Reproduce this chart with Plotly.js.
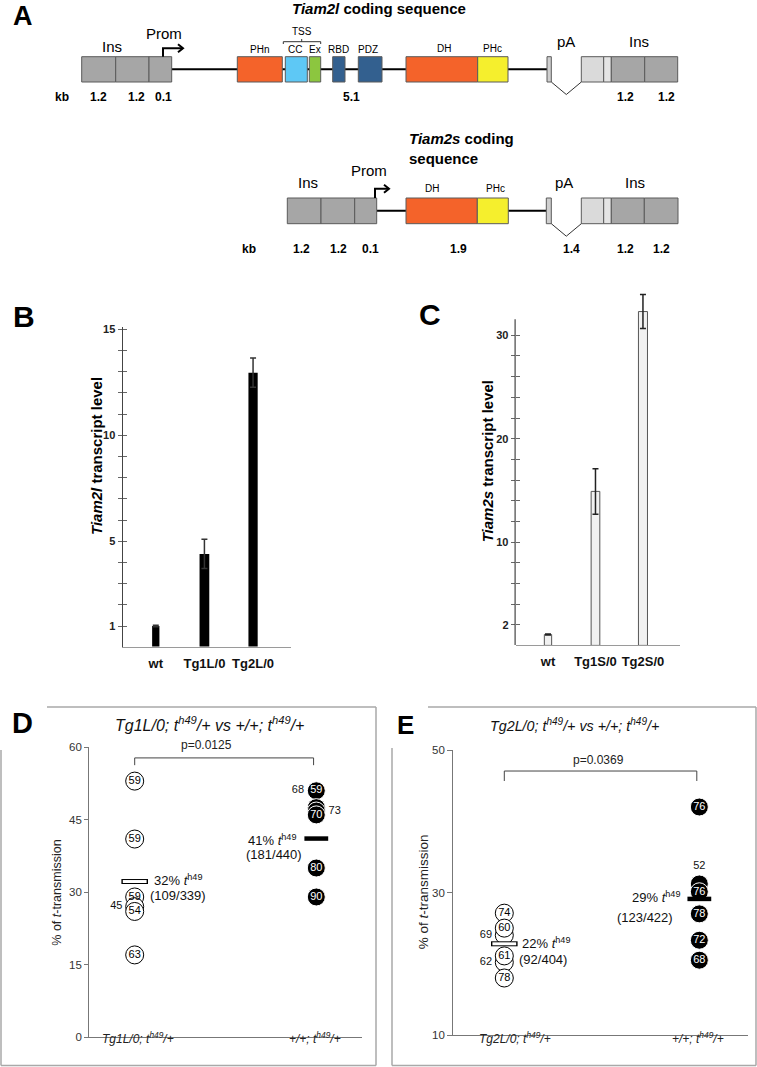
<!DOCTYPE html>
<html><head><meta charset="utf-8">
<script src="https://cdn.plot.ly/plotly-3.0.1.min.js"></script>
<style>html,body{margin:0;padding:0;background:#fff}</style>
</head><body><div id="chart" style="width:757px;height:1067px"></div>
<script>
const W = 757, H = 1067;
const FONT = 'Liberation Sans, Arial, sans-serif';

// ---------- Panel A (schematic) ----------
const aRow1Names = ['Ins','Ins','Prom','PHn','CC','Ex','RBD','PDZ','DH','PHc','pA','UTR','UTR','Ins','Ins'];
const aRow1Start = [81.7,115.7,149,237.3,285.3,309.3,332.7,358.3,406,477.7,547,581.3,603.7,611.3,644.7];
const aRow1End   = [115.7,149,171.7,282.3,307.3,320.7,345,382,477.7,508,551.3,603.7,611.3,644.7,677.7];
const aRow2Names = ['Ins','Ins','Prom','DH','PHc','pA','UTR','UTR','Ins','Ins'];
const aRow2Start = [287.3,321,354.7,406,477.3,546.3,581.3,603.7,611.3,644.3];
const aRow2End   = [321,354.7,376.7,477.3,508.3,551.3,603.7,611.3,644.3,678];
const aColors = {Ins:'#a6a6a6', Prom:'#a6a6a6', PHn:'#f4632a', CC:'#5ec8f5', Ex:'#8cc63f',
  RBD:'#33608f', PDZ:'#33608f', DH:'#f4632a', PHc:'#f5ef2d', pA:'#cfcfcf', UTR:'#dadada'};
const aKb1 = ['1.2','1.2','0.1','5.1','1.2','1.2'];
const aKb1X = [98.3,136.7,163.3,351.7,625.3,666];
const aKb2 = ['1.2','1.2','0.1','1.9','1.4','1.2','1.2'];
const aKb2X = [301.7,338.3,370,458.3,571.3,625.3,661.3];

// ---------- Panel B ----------
const bCats = ['wt','Tg1L/0','Tg2L/0'];
const bVals = [1.0, 4.4, 12.95];
const bErr  = [0.04, 0.69, 0.69];
const bTickVals = [1, 5, 10, 15];
const bTickText = ['1', '5', '10', '15'];

// ---------- Panel C ----------
const cCats = ['wt','Tg1S/0','Tg2S/0'];
const cVals = [1.05, 14.9, 32.3];
const cErr  = [0.05, 2.2, 1.65];
const cTickVals = [2, 10, 20, 30];
const cTickText = ['2', '10', '20', '30'];

// ---------- Panel D ----------
const dGroups = ['<i>Tg1L/0; t<sup>h49</sup>/+</i>', '<i>+/+; t<sup>h49</sup>/+</i>'];
const dTgVals = [53, 41, 29, 27, 26, 17];
const dTgLitters = ['59','59','59','45','54','63'];
const dWtVals = [51, 47.5, 46.8, 46, 35, 29];
const dWtLitters = ['59','68','73','70','80','90'];
const dMeans = [32.2, 41.1];
const dMeanPct = ['32% <i>t</i><sup>h49</sup>', '41% <i>t</i><sup>h49</sup>'];
const dMeanCounts = ['(109/339)', '(181/440)'];
const dTicks = [0, 15, 30, 45, 60];
const dP = 'p=0.0125';
const dTitle = '<i>Tg1L/0; t<sup>h49</sup>/+ vs +/+; t<sup>h49</sup>/+</i>';

// ---------- Panel E ----------
const eGroups = ['<i>Tg2L/0; t<sup>h49</sup>/+</i>', '<i>+/+; t<sup>h49</sup>/+</i>'];
const eTgVals = [27.1, 24.0, 25.0, 20.2, 21.1, 18.0];
const eTgLitters = ['74','69','60','62','61','78'];
const eWtVals = [42, 31.2, 30.1, 27.0, 23.3, 20.5];
const eWtLitters = ['76','52','76','78','72','68'];
const eMeans = [22.8, 29.1];
const eMeanPct = ['22% <i>t</i><sup>h49</sup>', '29% <i>t</i><sup>h49</sup>'];
const eMeanCounts = ['(92/404)', '(123/422)'];
const eTicks = [10, 30, 50];
const eP = 'p=0.0369';
const eTitle = '<i>Tg2L/0; t<sup>h49</sup>/+ vs +/+; t<sup>h49</sup>/+</i>';

// ---------- helpers ----------
const px = v => v / W;
const py = v => 1 - v / H;
function pAnn(text, x, y, size, o) {
  return Object.assign({text, x: px(x), y: py(y), xref:'paper', yref:'paper', showarrow:false,
    xanchor:'center', yanchor:'middle', font:{family:FONT, size, color:'#000'}}, o || {});
}
function aAnn(text, x, y, size, o) {
  return Object.assign({text, x, y, xref:'x5', yref:'y5', showarrow:false,
    xanchor:'center', yanchor:'middle', font:{family:FONT, size, color:'#000'}}, o || {});
}
const bold = (s, c) => ({family:FONT, size:s, color:c || '#000', weight:'bold'});

const shapes = [];
const annotations = [];

// ----- Panel A shapes -----
function drawRow(names, starts, ends, top, bot, lineFrom, lineTo) {
  const mid = (top + bot) / 2;
  shapes.push({type:'line', xref:'x5', yref:'y5', x0:lineFrom, x1:lineTo, y0:mid, y1:mid, line:{color:'#000', width:2}});
  names.forEach((n, i) => {
    let col = aColors[n];
    if (n === 'UTR' && i > 0 && names[i-1] === 'UTR') col = '#e4e4e4';
    shapes.push({type:'rect', xref:'x5', yref:'y5', x0:starts[i], x1:ends[i], y0:top, y1:bot,
      fillcolor:col, line:{color:'#5a5a5a', width:1}});
  });
  const pa = names.indexOf('pA');
  const utr = names.indexOf('UTR');
  const vx0 = ends[pa], vx1 = starts[utr];
  shapes.push({type:'path', xref:'x5', yref:'y5',
    path:`M${vx0},${bot} L${(vx0+vx1)/2},${bot+12.5} L${vx1},${bot}`, line:{color:'#333', width:1}});
}
drawRow(aRow1Names, aRow1Start, aRow1End, 56.7, 82, aRow1End[2], aRow1Start[10]);
drawRow(aRow2Names, aRow2Start, aRow2End, 198, 223.7, aRow2End[2], aRow2Start[5]);

function promArrow(x, top, tipY, tipX) {
  shapes.push({type:'path', xref:'x5', yref:'y5', path:`M${x},${top} V${tipY} H${tipX}`, line:{color:'#000', width:2}});
  shapes.push({type:'path', xref:'x5', yref:'y5', path:`M${tipX-5},${tipY-4} L${tipX},${tipY} L${tipX-5},${tipY+4}`, line:{color:'#000', width:2}});
}
promArrow(163, 56.7, 48.3, 183);
promArrow(375, 198, 188.7, 389);
shapes.push({type:'path', xref:'x5', yref:'y5', path:'M283.3,44 V41.7 H320.7 V44 M301.7,41.7 V39', line:{color:'#333', width:1}});

annotations.push(pAnn('A', 23, 16, 27, {font:bold(27)}));
annotations.push(aAnn('<i>Tiam2l</i> coding sequence', 379.3, 8.5, 15, {font:bold(15)}));
annotations.push(aAnn('Ins', 112, 46.7, 15));
annotations.push(aAnn('Prom', 164, 33.3, 15));
annotations.push(aAnn('PHn', 259.3, 49.3, 10));
annotations.push(aAnn('TSS', 301.7, 31.7, 10));
annotations.push(aAnn('CC', 295, 49.3, 10));
annotations.push(aAnn('Ex', 315, 49.3, 10));
annotations.push(aAnn('RBD', 338.3, 49.3, 10));
annotations.push(aAnn('PDZ', 368.3, 49.3, 10));
annotations.push(aAnn('DH', 443.7, 48.3, 10));
annotations.push(aAnn('PHc', 492.7, 48.3, 10));
annotations.push(aAnn('pA', 566.3, 41.7, 15));
annotations.push(aAnn('Ins', 639.3, 41.7, 15));
annotations.push(aAnn('kb', 61.7, 97.3, 12, {font:bold(12)}));
aKb1.forEach((t, i) => annotations.push(aAnn(t, aKb1X[i], 97.3, 12, {font:bold(12)})));

annotations.push(aAnn('<i>Tiam2s</i> coding', 407.3, 138.7, 15, {font:bold(15), xanchor:'left'}));
annotations.push(aAnn('sequence', 407.3, 158, 15, {font:bold(15), xanchor:'left'}));
annotations.push(aAnn('Prom', 369.3, 170.3, 15));
annotations.push(aAnn('Ins', 308.3, 182.7, 15));
annotations.push(aAnn('DH', 431.7, 188, 10));
annotations.push(aAnn('PHc', 495, 188, 10));
annotations.push(aAnn('pA', 564.3, 182.7, 15));
annotations.push(aAnn('Ins', 635.3, 182.7, 15));
annotations.push(aAnn('kb', 249.3, 249.3, 12, {font:bold(12)}));
aKb2.forEach((t, i) => annotations.push(aAnn(t, aKb2X[i], 249.3, 12, {font:bold(12)})));

// ----- Panel B/C labels -----
annotations.push(pAnn('B', 24, 316, 30, {font:bold(30)}));
annotations.push(pAnn('C', 429.5, 314, 30, {font:bold(30)}));
annotations.push(pAnn('<i>Tiam2l</i> transcript level', 96, 456, 15, {font:bold(15), textangle:-90}));
annotations.push(pAnn('<i>Tiam2s</i> transcript level', 488.3, 461, 15, {font:bold(15), textangle:-90}));

// C axis: y range extended above the drawn axis line so the tallest bar is not clipped
const cPxPerUnit = (645.4 - 319.3) / 31.55;
const cTop = 34.8;
const cLo = 0.05;
shapes.push({type:'line', xref:'paper', yref:'y2', x0:px(515.1), x1:px(515.1), y0:cLo, y1:31.55, line:{color:'#444', width:1.2}});

// ----- Panel D/E frames & labels -----
const boxCol = '#a9a9a9';
function frame(l, r, t, b, leftTop, topLeft) {
  const L = () => ({type:'line', xref:'paper', yref:'paper', line:{color:boxCol, width:1.5}});
  shapes.push(Object.assign(L(), {x0:px(topLeft), x1:px(r), y0:py(t), y1:py(t)}));
  shapes.push(Object.assign(L(), {x0:px(r), x1:px(r), y0:py(t), y1:py(b)}));
  shapes.push(Object.assign(L(), {x0:px(l), x1:px(r), y0:py(b), y1:py(b)}));
  shapes.push(Object.assign(L(), {x0:px(l), x1:px(l), y0:py(leftTop), y1:py(b)}));
}
frame(1, 376, 707, 1065.5, 750, 47);
frame(392, 756, 707, 1065.5, 748, 428);

annotations.push(pAnn('D', 22.5, 723, 29, {font:bold(29)}));
annotations.push(pAnn('E', 405.5, 725, 26, {font:bold(26)}));
annotations.push(pAnn(dTitle, 209, 724, 16, {font:{family:FONT, size:16, color:'#111'}}));
annotations.push(pAnn(eTitle, 574, 725, 14.3, {font:{family:FONT, size:14.3, color:'#111'}}));
annotations.push(pAnn('% of <i>t</i>-transmission', 56.7, 893, 12.5, {textangle:-90, font:{family:FONT, size:12.5, color:'#222'}}));
annotations.push(pAnn('% of <i>t</i>-transmission', 423.3, 892, 13.5, {textangle:-90, font:{family:FONT, size:13.5, color:'#222'}}));

// brackets + p values
shapes.push({type:'path', xref:'x3', yref:'y3', path:'M0,56.3 V57.8 H0.985 V56.3', line:{color:'#444', width:1}});
annotations.push(pAnn(dP, 206.7, 745, 12, {font:{family:FONT, size:12, color:'#222'}}));
shapes.push({type:'path', xref:'x4', yref:'y4', path:'M0,45.65 V47.05 H0.987 V45.65', line:{color:'#444', width:1}});
annotations.push(pAnn(eP, 598.3, 760, 12, {font:{family:FONT, size:12, color:'#222'}}));

// group labels
const grpFont = {family:FONT, size:12, color:'#222'};
annotations.push({text:dGroups[0], x:0.02, y:py(1048.3), xref:'x3', yref:'paper', showarrow:false, font:grpFont});
annotations.push({text:dGroups[1], x:0.995, y:py(1048.3), xref:'x3', yref:'paper', showarrow:false, font:grpFont});
annotations.push({text:eGroups[0], x:0.055, y:py(1048.3), xref:'x4', yref:'paper', showarrow:false, font:grpFont});
annotations.push({text:eGroups[1], x:0.995, y:py(1048.3), xref:'x4', yref:'paper', showarrow:false, font:grpFont});

// mean labels
const mFont = {family:FONT, size:13, color:'#111'};
annotations.push({text:dMeanPct[0], x:0.097, y:32.5, xref:'x3', yref:'y3', xanchor:'left', showarrow:false, font:mFont});
annotations.push({text:dMeanCounts[0], x:0.072, y:29.4, xref:'x3', yref:'y3', xanchor:'left', showarrow:false, font:mFont});
annotations.push({text:dMeanPct[1], x:0.899, y:40.9, xref:'x3', yref:'y3', xanchor:'right', showarrow:false, font:mFont});
annotations.push({text:dMeanCounts[1], x:0.934, y:37.7, xref:'x3', yref:'y3', xanchor:'right', showarrow:false, font:mFont});
annotations.push({text:eMeanPct[0], x:0.0805, y:22.85, xref:'x4', yref:'y4', xanchor:'left', showarrow:false, font:mFont});
annotations.push({text:eMeanCounts[0], x:0.0636, y:20.65, xref:'x4', yref:'y4', xanchor:'left', showarrow:false, font:mFont});
annotations.push({text:eMeanPct[1], x:0.91, y:29.3, xref:'x4', yref:'y4', xanchor:'right', showarrow:false, font:mFont});
annotations.push({text:eMeanCounts[1], x:0.875, y:26.5, xref:'x4', yref:'y4', xanchor:'right', showarrow:false, font:mFont});

// ---------- traces ----------
const traces = [];
traces.push({type:'bar', x:bCats, y:bVals, width:[0.15,0.2,0.19], xaxis:'x', yaxis:'y',
  marker:{color:'#000', line:{width:0}}, hoverinfo:'skip',
  error_y:{type:'data', array:bErr, visible:true, color:'#333', thickness:1.5, width:3}});
traces.push({type:'scatter', x:[], y:[], xaxis:'x', yaxis:'y6'});
traces.push({type:'bar', x:cCats, y:cVals, width:[0.154,0.183,0.19], xaxis:'x2', yaxis:'y2',
  marker:{color:'#f1f1f1', line:{color:'#555', width:1}}, hoverinfo:'skip',
  error_y:{type:'data', array:cErr, visible:true, color:'#222', thickness:1.5, width:3}});
traces.push({type:'scatter', x:[], y:[], xaxis:'x2', yaxis:'y7'});

function dots(xa, ya, xv, vals, labels, filled, tpos) {
  const tcol = labels.map((l, i) => tpos[i] === 'middle center' ? (filled ? '#fff' : '#000') : '#111');
  return {type:'scatter', mode:'markers+text', x:vals.map(() => xv), y:vals, text:labels,
    xaxis:xa, yaxis:ya, cliponaxis:false, hoverinfo:'skip',
    textposition:tpos, textfont:{family:FONT, size:11, color:tcol},
    marker:{symbol:'circle', size:18, color: filled ? '#000' : '#fff', line:{color: filled ? '#fff' : '#000', width:1}}};
}
const C = 'middle center';
traces.push(dots('x3','y3',0,dTgVals,dTgLitters,false,[C,C,C,'middle left',C,C]));
traces.push(dots('x3','y3',1,dWtVals,dWtLitters,true,[C,'top left','middle right',C,C,C]));
traces.push(dots('x4','y4',0,eTgVals,eTgLitters,false,[C,'middle left',C,'middle left',C,C]));
traces.push(dots('x4','y4',1,eWtVals,eWtLitters,true,[C,'top center',C,C,C,C]));

function meanMark(xa, ya, xv, yv, open) {
  const out = [{type:'scatter', mode:'markers', x:[xv], y:[yv], xaxis:xa, yaxis:ya, hoverinfo:'skip', cliponaxis:false,
    marker:{symbol:'line-ew', size: open ? 19 : 17, line:{color:'#000', width: open ? 5 : 4.5}}}];
  if (open) out.push({type:'scatter', mode:'markers', x:[xv], y:[yv], xaxis:xa, yaxis:ya, hoverinfo:'skip', cliponaxis:false,
    marker:{symbol:'line-ew', size:17, line:{color:'#fff', width:3}}});
  return out;
}
traces.push(...meanMark('x3','y3',0,dMeans[0],true));
traces.push(...meanMark('x3','y3',1,dMeans[1],false));
traces.push(...meanMark('x4','y4',0,eMeans[0],true));
traces.push(...meanMark('x4','y4',1,eMeans[1],false));
traces.push({type:'scatter', x:[], y:[], xaxis:'x5', yaxis:'y5'});

// ---------- layout ----------
const noAxis = {showline:false, showgrid:false, zeroline:false, showticklabels:false, ticks:''};
const catFont = bold(13, '#111');
const cDomTop = 645.4 - cTop * cPxPerUnit;
const bLo = 0.03;
const bPxPerUnit = (647.2 - 326.7) / 15.12;
const yB = {tickcolor:'#666', tickwidth:1};
const layout = {
  width:W, height:H, margin:{l:0, r:0, t:0, b:0}, showlegend:false,
  paper_bgcolor:'#fff', plot_bgcolor:'rgba(0,0,0,0)', font:{family:FONT},
  xaxis:{domain:[px(122.7), px(291)], range:[-0.68, 2.78], anchor:'y', type:'category',
    showline:true, linecolor:'#9a9a9a', linewidth:1.5, showgrid:false, zeroline:false, ticks:'',
    tickfont:catFont, ticklabelstandoff:4},
  yaxis:Object.assign({domain:[py(647.2 - bLo * bPxPerUnit), py(326.7)], range:[bLo, 15.12], anchor:'x', showline:true, linecolor:'#444', linewidth:1.2,
    showgrid:false, zeroline:false, ticks:'outside', ticklen:4,
    tickvals:bTickVals, ticktext:bTickText, tickfont:bold(11, '#222'),
    minor:{dtick:1, tick0:0, ticks:'outside', ticklen:4, tickcolor:'#666', tickwidth:1}}, yB),
  yaxis6:Object.assign({overlaying:'y', anchor:'x', range:[bLo, 15.12], showline:false, showgrid:false, zeroline:false,
    ticks:'inside', ticklen:4, tickvals:bTickVals, showticklabels:false,
    minor:{dtick:1, tick0:0, ticks:'inside', ticklen:4, tickcolor:'#666', tickwidth:1}}, yB),
  xaxis2:{domain:[px(515.7), px(680)], range:[-0.68, 2.78], anchor:'y2', type:'category',
    showline:true, linecolor:'#9a9a9a', linewidth:1.5, showgrid:false, zeroline:false, ticks:'',
    tickfont:catFont, ticklabelstandoff:4},
  yaxis2:Object.assign({domain:[py(645.4 - cLo * cPxPerUnit), py(cDomTop)], range:[cLo, cTop], anchor:'x2', showline:false,
    showgrid:false, zeroline:false, ticks:'outside', ticklen:4,
    tickvals:cTickVals, ticktext:cTickText, tickfont:bold(11, '#222'),
    minor:{tickvals:[4,6,8,12,14,16,18,22,24,26,28], ticks:'outside', ticklen:4, tickcolor:'#666', tickwidth:1}}, yB),
  yaxis7:Object.assign({overlaying:'y2', anchor:'x2', range:[cLo, cTop], showline:false, showgrid:false, zeroline:false,
    ticks:'inside', ticklen:4, tickvals:cTickVals, showticklabels:false,
    minor:{tickvals:[4,6,8,12,14,16,18,22,24,26,28], ticks:'inside', ticklen:4, tickcolor:'#666', tickwidth:1}}, yB),
  xaxis3:{domain:[px(89.3), px(361.7)], range:[-0.25, 1.25], anchor:'y3', showline:true, linecolor:'#777', linewidth:1.2,
    showgrid:false, zeroline:false, showticklabels:false, ticks:''},
  yaxis3:{domain:[py(1037), py(747.3)], range:[0, 60], anchor:'x3', showline:true, linecolor:'#777', linewidth:1.2,
    showgrid:false, zeroline:false, ticks:'outside', ticklen:4, tickcolor:'#777', tickvals:dTicks,
    tickfont:{family:FONT, size:11.5, color:'#333'}},
  xaxis4:{domain:[px(453.3), px(748.3)], range:[-0.2615, 1.251], anchor:'y4', showline:true, linecolor:'#777', linewidth:1.2,
    showgrid:false, zeroline:false, showticklabels:false, ticks:''},
  yaxis4:{domain:[py(1035), py(750)], range:[10, 50], anchor:'x4', showline:true, linecolor:'#777', linewidth:1.2,
    showgrid:false, zeroline:false, ticks:'outside', ticklen:5, tickcolor:'#777', tickvals:eTicks,
    tickfont:{family:FONT, size:11.5, color:'#333'}},
  xaxis5:Object.assign({domain:[0, 1], range:[0, W], anchor:'y5'}, noAxis),
  yaxis5:Object.assign({domain:[py(265), 1], range:[265, 0], anchor:'x5'}, noAxis),
  shapes, annotations
};
Plotly.newPlot('chart', traces, layout, {staticPlot:true, displayModeBar:false});
</script></body></html>
